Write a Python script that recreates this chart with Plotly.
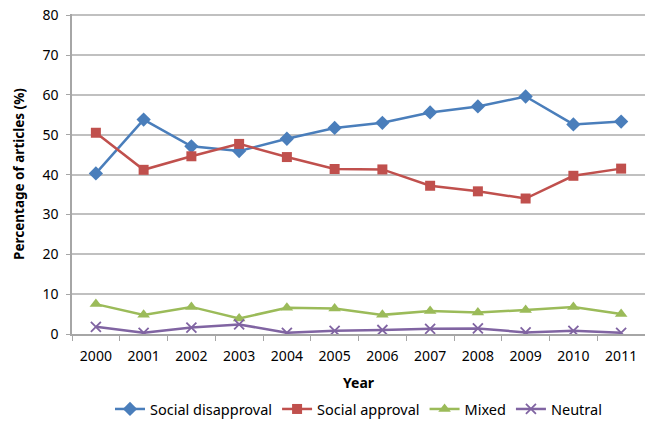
import plotly.graph_objects as go

years = ["2000", "2001", "2002", "2003", "2004", "2005", "2006", "2007", "2008", "2009", "2010", "2011"]
social_disapproval = [40.3, 53.8, 47.1, 45.9, 49.0, 51.7, 53.0, 55.6, 57.1, 59.6, 52.6, 53.3]
social_approval = [50.5, 41.2, 44.6, 47.7, 44.4, 41.4, 41.3, 37.2, 35.8, 34.0, 39.7, 41.5]
mixed = [7.5, 4.8, 6.8, 3.9, 6.6, 6.4, 4.8, 5.8, 5.4, 6.0, 6.8, 5.0]
neutral = [1.8, 0.3, 1.6, 2.4, 0.3, 0.8, 1.0, 1.3, 1.4, 0.4, 0.8, 0.3]

FONT = "Noto Sans"

fig = go.Figure()
fig.add_trace(go.Scatter(x=years, y=social_disapproval, name="Social disapproval", mode="lines+markers",
                         line=dict(color="#4a7ebb", width=2.5),
                         marker=dict(symbol="diamond", size=11, color="#4a7ebb")))
fig.add_trace(go.Scatter(x=years, y=social_approval, name="Social approval", mode="lines+markers",
                         line=dict(color="#c0504d", width=2.5),
                         marker=dict(symbol="square", size=10, color="#c0504d")))
fig.add_trace(go.Scatter(x=years, y=mixed, name="Mixed", mode="lines+markers",
                         line=dict(color="#9bbb59", width=2.5),
                         marker=dict(symbol="triangle-up", size=11, color="#9bbb59")))
fig.add_trace(go.Scatter(x=years, y=neutral, name="Neutral", mode="lines+markers",
                         line=dict(color="#8064a2", width=2.5),
                         marker=dict(symbol="x-thin", size=10, color="#8064a2",
                                     line=dict(color="#8064a2", width=1.8))))

fig.update_layout(
    width=645, height=423,
    margin=dict(l=72, r=0, t=14, b=89),
    paper_bgcolor="white", plot_bgcolor="white",
    font=dict(family=FONT, size=12, color="#000000"),
    showlegend=True,
    legend=dict(orientation="h", x=0.5, xanchor="center", yref="container", y=0.033, yanchor="middle",
                font=dict(size=14.5), itemwidth=30, tracegroupgap=0),
    xaxis=dict(type="category", range=[-0.5, 11.5],
               showgrid=False, showline=True, linecolor="#a6a6a6", linewidth=1.5,
               ticks="outside", tickson="boundaries", ticklen=5, tickcolor="#a6a6a6",
               tickfont=dict(size=14), ticklabelstandoff=8,
               title=dict(text="<b>Year</b>", font=dict(size=14), standoff=15)),
    yaxis=dict(range=[0, 80.3], tick0=0, dtick=10, showgrid=True, gridcolor="#c0c0c0", gridwidth=1.5,
               showline=True, linecolor="#a6a6a6", linewidth=1.5,
               ticks="outside", ticklen=4, tickcolor="#a6a6a6",
               tickfont=dict(size=14), ticklabelstandoff=5, zeroline=False,
               title=dict(text="<b>Percentage of articles (%)</b>", font=dict(size=13.5), standoff=15)),
)

fig.write_html("out.html", config={"displayModeBar": False},
               post_script="document.body.style.margin='0';")
